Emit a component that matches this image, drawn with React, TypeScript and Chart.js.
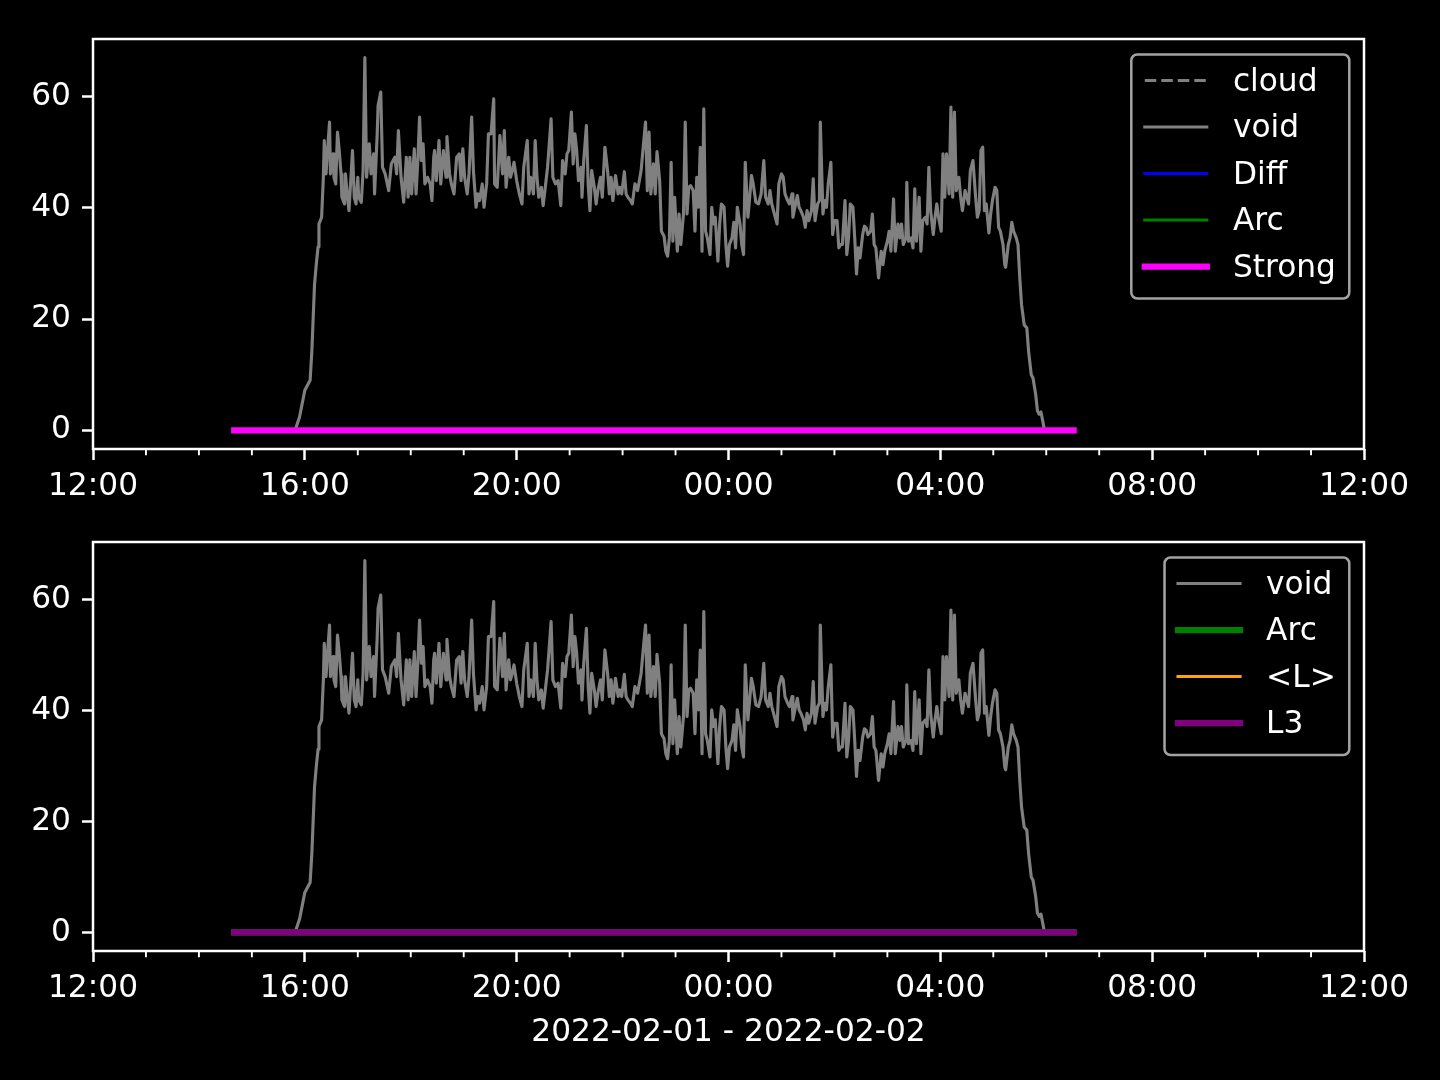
import React, { useEffect, useRef } from "react";
import { Chart, registerables } from "chart.js";

Chart.register(...registerables);

// ---------- data (x = minutes after 2022-02-01 12:00) ----------
const X_MAJOR = [0, 240, 480, 720, 960, 1200, 1440];
const X_LABELS = ["12:00", "16:00", "20:00", "00:00", "04:00", "08:00", "12:00"];
const X_MINOR = [60, 120, 180, 300, 360, 420, 540, 600, 660, 780, 840, 900, 1020, 1080, 1140, 1260, 1320, 1380];
const Y_TICKS = [0, 20, 40, 60];
const X_TITLE = "2022-02-01 - 2022-02-02";

const SPAN_MINUTES = [160, 1111];
const CLOUD_VALUES = [0, 0];
const DIFF_VALUES = [0, 0];
const ARC_VALUES = [0, 0];
const STRONG_VALUES = [0, 0];
const MEAN_L_VALUES = [0, 0];
const L3_VALUES = [0, 0];

const VOID_MINUTES = [
  160, 229, 234, 240, 246, 248, 251, 253, 255, 256, 259, 261, 262, 264, 266, 268, 269, 272, 273, 275,
  277, 279, 281, 282, 285, 286, 288, 290, 292, 294, 296, 298, 300, 301, 304, 306, 308, 310, 313, 315,
  318, 319, 322, 323, 326, 328, 331, 335, 338, 342, 344, 346, 349, 352, 355, 357, 359, 361, 364, 366,
  368, 370, 372, 374, 376, 379, 382, 384, 386, 387, 389, 392, 394, 397, 400, 401, 404, 406, 409, 412,
  415, 417, 419, 421, 424, 426, 429, 431, 434, 436, 438, 441, 443, 446, 448, 451, 454, 455, 458, 461,
  464, 466, 468, 471, 473, 475, 477, 480, 483, 486, 488, 490, 492, 494, 496, 499, 501, 503, 505, 508,
  510, 512, 515, 519, 521, 524, 527, 530, 532, 535, 537, 539, 542, 544, 546, 548, 550, 553, 554, 556,
  559, 561, 563, 565, 568, 570, 572, 575, 577, 580, 583, 585, 587, 589, 592, 595, 597, 599, 602, 604,
  606, 609, 611, 614, 617, 619, 621, 623, 626, 628, 630, 632, 635, 637, 639, 642, 644, 647, 649, 651,
  653, 655, 657, 659, 662, 664, 666, 669, 671, 673, 675, 677, 680, 682, 684, 686, 688, 690, 692, 694,
  696, 699, 701, 703, 705, 708, 710, 712, 715, 717, 719, 721, 724, 726, 728, 730, 733, 735, 737, 739,
  742, 744, 746, 748, 751, 754, 757, 760, 762, 765, 767, 769, 771, 775, 777, 780, 782, 784, 787, 789,
  792, 793, 796, 798, 800, 802, 805, 807, 809, 811, 814, 816, 818, 821, 823, 824, 827, 829, 831, 833,
  836, 838, 840, 843, 845, 847, 849, 852, 854, 856, 858, 861, 863, 865, 867, 869, 872, 874, 876, 878,
  881, 883, 885, 887, 890, 893, 895, 897, 900, 902, 904, 907, 909, 912, 914, 916, 918, 921, 922, 924,
  927, 929, 931, 933, 936, 938, 940, 943, 945, 947, 949, 952, 954, 956, 958, 961, 963, 965, 967, 970,
  972, 974, 976, 978, 981, 983, 985, 988, 990, 992, 994, 997, 1000, 1002, 1004, 1006, 1008, 1010, 1012, 1015,
  1017, 1019, 1022, 1024, 1026, 1028, 1031, 1033, 1034, 1037, 1039, 1041, 1043, 1046, 1048, 1050, 1052, 1055, 1058, 1060,
  1063, 1065, 1068, 1070, 1072, 1074, 1076, 1078, 1111,
];
const VOID_VALUES = [
  0, 0, 2.4, 7.2, 9, 14.4, 26.3, 29.9, 33, 37.1, 38.3, 45.5, 52.1, 46.1, 50.9, 55.4, 46.1, 49.7, 45.5, 44.3,
  53.6, 50.3, 46.1, 41.9, 40.7, 46.1, 42.5, 39.5, 44.9, 50.3, 41.9, 40.7, 45.5, 41.9, 41, 46.7, 67, 45.5, 51.5, 46.1,
  49.7, 42.5, 53.3, 58.4, 60.8, 47.3, 46.1, 43.1, 47.9, 49.1, 46.1, 53.9, 45.5, 41, 49.1, 41.9, 49.1, 42.5, 50.6, 42.5,
  48.5, 56.3, 48.5, 51.5, 44.3, 45.5, 44.3, 41.3, 49.1, 50.3, 44.9, 52.1, 44.3, 50.3, 45.5, 52.8, 46.1, 44.3, 42.5, 49.1,
  49.7, 44.9, 50.6, 45.5, 42.5, 46.1, 56.3, 46.7, 40.1, 42.5, 41.3, 44.3, 40.1, 44.3, 53.3, 53.3, 59.6, 44.3, 43.7, 53,
  46.1, 53.9, 43.7, 49.1, 45.5, 46.7, 48.2, 44.9, 42.5, 40.7, 47.3, 49.7, 52.1, 42.5, 45.5, 42.5, 52.1, 45.5, 41.9, 43.7,
  40.4, 43.1, 47.3, 56, 45.5, 44.3, 44.9, 40.4, 48.5, 46.1, 49.7, 50.3, 57.2, 47.9, 53.3, 50.3, 44.9, 47.3, 41.9, 48.5,
  54.8, 44.3, 39.5, 46.7, 43.7, 40.7, 43.1, 45.5, 41.9, 50.9, 46.7, 42.5, 45.5, 41.3, 45.8, 42.5, 43.7, 42.5, 46.5, 42.5,
  41.9, 41.3, 40.7, 44.3, 43.1, 44.9, 46.7, 50.3, 55.4, 43.1, 53.6, 42.5, 47.9, 42.5, 50.1, 44.9, 35.8, 34.9, 32.2, 31.3,
  34.6, 48.2, 34, 41.9, 32.2, 38.9, 33.4, 38.9, 55.4, 38.9, 43.7, 44, 43.1, 35.8, 45.5, 40.1, 50.9, 32.2, 57.8, 35.8,
  34.6, 31.6, 40.1, 37.1, 38.3, 30.4, 37.1, 40.7, 40.1, 33.4, 29.5, 33.4, 34.6, 37.4, 32.8, 40.1, 37.1, 33.4, 31.6, 48.2,
  38.3, 41.9, 45.8, 44.3, 41, 40.7, 42.5, 48.5, 41.9, 40.7, 43.1, 40.7, 39.5, 37.1, 44.3, 46.1, 45.5, 42.5, 41.3, 40.7,
  42.5, 38.3, 40.7, 42.2, 40.1, 39.5, 38.3, 36.5, 39.5, 37.7, 39.5, 45.2, 37.7, 40.7, 41.3, 55.4, 38.9, 41.3, 40.1, 44.3,
  48.2, 35.2, 37.7, 37.7, 32.8, 33.4, 33.4, 41.3, 31.6, 34.6, 40.7, 40.1, 34.6, 28.1, 32.8, 31, 35.2, 36.7, 36.4, 35.2,
  35.8, 38.9, 33.4, 32.8, 27.4, 32.2, 29.8, 32.2, 34, 35.8, 32.2, 41.6, 32.2, 37.1, 34.6, 37.1, 33.4, 34.6, 44.6, 34,
  34.6, 32.8, 43.4, 34, 41.9, 32.2, 37.7, 38.3, 37.1, 47.3, 39.5, 35.2, 38.3, 40.7, 38.3, 35.8, 49.7, 41.9, 49.7, 42.5,
  58.1, 41.9, 57.2, 43.1, 45.5, 41.9, 39.5, 43.1, 41.9, 40.7, 46.7, 48.5, 41.9, 38.3, 39.5, 50.3, 50.9, 39.5, 40.7, 35.5,
  38.9, 41.3, 43.7, 43.1, 36.5, 35.8, 33.4, 29.8, 29.3, 33.4, 34.6, 37.4, 35.8, 34.6, 33.4, 27.4, 22.6, 19, 18.4, 14.2,
  10, 9.4, 6.5, 3.5, 2.9, 3.3, 1.7, 0, 0,
];

// ---------- styling ----------
const FONT = "'DejaVu Sans', 'Liberation Sans', sans-serif";
const FS = 31.25;
const LW = 3.125;
const GRAY = "#808080";

function pts(xs: number[], ys: number[]) {
  return xs.map((x, i) => ({ x, y: ys[i] }));
}

function line(label: string, xs: number[], ys: number[], color: string, width: number, dash?: number[]) {
  return {
    label,
    data: pts(xs, ys),
    borderColor: color,
    backgroundColor: color,
    borderWidth: width,
    borderDash: dash || [],
    borderCapStyle: dash ? "butt" : "square",
    borderJoinStyle: "round",
    pointRadius: 0,
    pointHoverRadius: 0,
    tension: 0,
    fill: false,
  };
}

type LegendItem = { label: string; color: string; width: number; dash?: number[] };

const decorPlugin = {
  id: "mplDecor",
  afterDraw(chart: any, _args: any, opts: any) {
    const { ctx, chartArea: a } = chart;
    const xs = chart.scales.x;
    ctx.save();
    // minor ticks
    ctx.strokeStyle = "#ffffff";
    ctx.lineWidth = 1.9;
    for (const m of X_MINOR) {
      const px = xs.getPixelForValue(m);
      ctx.beginPath();
      ctx.moveTo(px, a.bottom);
      ctx.lineTo(px, a.bottom + 6.25);
      ctx.stroke();
    }
    // frame (all four spines)
    ctx.lineWidth = 2.5;
    ctx.strokeRect(a.left, a.top, a.right - a.left, a.bottom - a.top);

    // legend
    const items: LegendItem[] = opts.items || [];
    if (items.length) {
      ctx.font = `${FS}px ${FONT}`;
      const maxW = Math.max(...items.map((it) => ctx.measureText(it.label).width));
      const w = 102 + maxW + 13;
      const h = 28 + (items.length - 1) * 46.5 + 30;
      const bx = a.right - 14.7 - w;
      const by = a.top + 15.5;
      ctx.beginPath();
      ctx.roundRect(bx, by, w, h, 6);
      ctx.fillStyle = "rgba(0,0,0,0.8)";
      ctx.fill();
      ctx.strokeStyle = "#a3a3a3";
      ctx.lineWidth = 2.5;
      ctx.stroke();
      items.forEach((it, i) => {
        const y = by + 26 + i * 46.5;
        ctx.beginPath();
        ctx.setLineDash(it.dash || []);
        ctx.lineCap = it.dash ? "butt" : "square";
        ctx.lineWidth = it.width;
        ctx.strokeStyle = it.color;
        ctx.moveTo(bx + 13.5, y);
        ctx.lineTo(bx + 75.5, y);
        ctx.stroke();
        ctx.setLineDash([]);
        ctx.fillStyle = "#ffffff";
        ctx.textBaseline = "middle";
        ctx.textAlign = "left";
        ctx.fillText(it.label, bx + 101.6, y + 2);
      });
    }
    ctx.restore();
  },
};

function makeConfig(datasets: any[], items: LegendItem[], padTop: number, xHeight: number, title?: string) {
  const tickFont = { family: FONT, size: FS };
  return {
    type: "line",
    data: { datasets },
    plugins: [decorPlugin],
    options: {
      animation: false,
      responsive: false,
      devicePixelRatio: 1,
      events: [],
      layout: { padding: { top: padTop, right: 76, left: 0, bottom: 0 } },
      plugins: {
        legend: { display: false },
        tooltip: { enabled: false },
        mplDecor: { items },
      },
      scales: {
        x: {
          type: "linear",
          min: 0,
          max: 1440,
          afterBuildTicks: (s: any) => {
            s.ticks = X_MAJOR.map((v) => ({ value: v }));
          },
          afterFit: (s: any) => {
            s.height = xHeight;
          },
          ticks: {
            color: "#ffffff",
            font: tickFont,
            padding: 8,
            maxRotation: 0,
            minRotation: 0,
            autoSkip: false,
            callback: (v: number) => X_LABELS[X_MAJOR.indexOf(v)],
          },
          grid: {
            display: true,
            drawOnChartArea: false,
            drawTicks: true,
            tickLength: 11,
            tickWidth: 2.5,
            tickColor: "#ffffff",
            color: "#ffffff",
          },
          border: { display: false },
          title: title
            ? {
                display: true,
                text: title,
                color: "#ffffff",
                font: tickFont,
                padding: { top: 0, bottom: 28 },
              }
            : { display: false },
        },
        y: {
          type: "linear",
          min: -3.35,
          max: 70.35,
          afterBuildTicks: (s: any) => {
            s.ticks = Y_TICKS.map((v) => ({ value: v }));
          },
          afterFit: (s: any) => {
            s.width = 93;
          },
          ticks: {
            color: "#ffffff",
            font: tickFont,
            padding: 11,
            callback: (v: number) => String(v),
          },
          grid: {
            display: true,
            drawOnChartArea: false,
            drawTicks: true,
            tickLength: 11,
            tickWidth: 2.5,
            tickColor: "#ffffff",
            color: "#ffffff",
          },
          border: { display: false },
        },
      },
    },
  };
}

export default function App() {
  const topRef = useRef<HTMLCanvasElement>(null);
  const botRef = useRef<HTMLCanvasElement>(null);

  useEffect(() => {
    // drawing order: first dataset is drawn on top in Chart.js
    const topSets = [
      line("Strong", SPAN_MINUTES, STRONG_VALUES, "#ff00ff", 2 * LW),
      line("Arc", SPAN_MINUTES, ARC_VALUES, "#008000", LW),
      line("Diff", SPAN_MINUTES, DIFF_VALUES, "#0000ff", LW),
      line("void", VOID_MINUTES, VOID_VALUES, GRAY, LW),
      line("cloud", SPAN_MINUTES, CLOUD_VALUES, GRAY, LW, [11.5, 5]),
    ];
    const topItems: LegendItem[] = [
      { label: "cloud", color: GRAY, width: LW, dash: [11.5, 5] },
      { label: "void", color: GRAY, width: LW },
      { label: "Diff", color: "#0000ff", width: LW },
      { label: "Arc", color: "#008000", width: LW },
      { label: "Strong", color: "#ff00ff", width: 2 * LW },
    ];
    const botSets = [
      line("L3", SPAN_MINUTES, L3_VALUES, "#800080", 2 * LW),
      line("<L>", SPAN_MINUTES, MEAN_L_VALUES, "#ffa500", LW),
      line("Arc", SPAN_MINUTES, ARC_VALUES, "#008000", 2 * LW),
      line("void", VOID_MINUTES, VOID_VALUES, GRAY, LW),
    ];
    const botItems: LegendItem[] = [
      { label: "void", color: GRAY, width: LW },
      { label: "Arc", color: "#008000", width: 2 * LW },
      { label: "<L>", color: "#ffa500", width: LW },
      { label: "L3", color: "#800080", width: 2 * LW },
    ];
    const c1 = new Chart(topRef.current as any, makeConfig(topSets, topItems, 39, 91) as any);
    const c2 = new Chart(botRef.current as any, makeConfig(botSets, botItems, 42, 129, X_TITLE) as any);
    return () => {
      c1.destroy();
      c2.destroy();
    };
  }, []);

  return (
    <div style={{ position: "absolute", left: 0, top: 0, width: 1440, height: 1080, background: "#000000" }}>
      <canvas ref={topRef} width={1440} height={540} style={{ position: "absolute", left: 0, top: 0, display: "block" }} />
      <canvas ref={botRef} width={1440} height={580} style={{ position: "absolute", left: 0, top: 500, display: "block" }} />
    </div>
  );
}
